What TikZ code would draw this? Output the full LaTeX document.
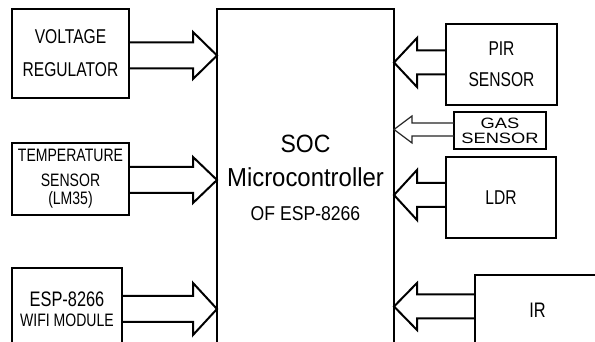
\documentclass[tikz,border=0pt]{standalone}
\usepackage{fontspec}
\setmainfont{Liberation Sans}
\newfontfamily\narfont[FakeStretch=0.78]{Liberation Sans}
\newfontfamily\socfont[FakeStretch=0.92]{Liberation Sans}
\newfontfamily\ofafont[FakeStretch=0.88]{Liberation Sans}
\newfontfamily\gasfont[FakeStretch=1.22]{Liberation Sans}
\usetikzlibrary{calc}
\tikzset{
  blk/.style={draw, line width=2pt, outer sep=0pt, inner sep=0pt, align=center},
  thinblk/.style={draw, line width=1.2pt, outer sep=0pt, inner sep=0pt, align=center},
  barrow/.style={draw, line width=2pt, line join=miter},
  tharrow/.style={draw=black!85, line width=1.2pt, line join=miter},
}
% arrow pointing right: #1 source (east side), #2 target (west side), #3 y centre (image px), #4 half shaft, #5 half head, #6 head length, #7 style
\newcommand\arrowRt[7]{%
  \draw[#7] let \p1=(#1.east), \p2=(#2.west) in
    (\x1,{(342-#3+#4)*1pt}) -- ({\x2-#6pt},{(342-#3+#4)*1pt}) -- ({\x2-#6pt},{(342-#3+#5)*1pt})
    -- (\x2,{(342-#3)*1pt}) -- ({\x2-#6pt},{(342-#3-#5)*1pt}) -- ({\x2-#6pt},{(342-#3-#4)*1pt})
    -- (\x1,{(342-#3-#4)*1pt});}
% arrow pointing left: #1 source (west side), #2 target (east side)
\newcommand\arrowLt[7]{%
  \draw[#7] let \p1=(#1.west), \p2=(#2.east) in
    (\x1,{(342-#3+#4)*1pt}) -- ({\x2+#6pt},{(342-#3+#4)*1pt}) -- ({\x2+#6pt},{(342-#3+#5)*1pt})
    -- (\x2,{(342-#3)*1pt}) -- ({\x2+#6pt},{(342-#3-#5)*1pt}) -- ({\x2+#6pt},{(342-#3-#4)*1pt})
    -- (\x1,{(342-#3-#4)*1pt});}
\begin{document}
\begin{tikzpicture}[x=1pt,y=1pt]
\useasboundingbox (0,0) rectangle (595,342);
\fill[white] (0,0) rectangle (595,342);
\clip (0,0) rectangle (595,342);

% left blocks
\node[blk, minimum width=117pt, minimum height=89pt, font=\narfont\fontsize{20}{33}\selectfont]
  (vr) at (70.5,288.5) {VOLTAGE\\REGULATOR};
\node[blk, minimum width=117pt, minimum height=72pt, font=\narfont\fontsize{18}{25}\selectfont]
  (ts) at (70.5,163) {TEMPERATURE\\SENSOR\\[-7pt](LM35)};
\node[blk, minimum width=110pt, minimum height=82pt, font=\narfont\fontsize{18}{20}\selectfont]
  (wifi) at (67,33) {{\narfont\fontsize{21}{20}\selectfont ESP-8266}\\WIFI MODULE};

% main block
\node[blk, minimum width=177pt, minimum height=337pt, font=\socfont\fontsize{26}{34}\selectfont]
  (main) at (305.5,164.5) {{\fontsize{25}{34}\selectfont SOC}\\Microcontroller\\{\ofafont\fontsize{20}{34}\selectfont OF ESP-8266}};

% right blocks
\node[blk, minimum width=111pt, minimum height=81pt, font=\narfont\fontsize{20}{31}\selectfont]
  (pir) at (501.5,277.5) {PIR\\SENSOR};
\node[thinblk, minimum width=92pt, minimum height=37pt, font=\gasfont\fontsize{15}{15}\selectfont]
  (gas) at (500,211.5) {GAS\\SENSOR};
\node[blk, minimum width=110pt, minimum height=81pt, font=\narfont\fontsize{20}{24}\selectfont]
  (ldr) at (501,144.5) {LDR};
\node[blk, minimum width=125pt, minimum height=71pt, font=\narfont\fontsize{21}{24}\selectfont]
  (ir) at (537.5,31.5) {IR};

% block arrows
\arrowRt{vr}{main}{55.5}{13}{23.5}{24}{barrow}
\arrowRt{ts}{main}{180}{13}{23}{24}{barrow}
\arrowRt{wifi}{main}{309}{13}{26}{24}{barrow}
\arrowLt{pir}{main}{62.5}{12}{24.5}{23}{barrow}
\arrowLt{gas}{main}{129.5}{6.5}{13.5}{18}{tharrow}
\arrowLt{ldr}{main}{195}{12}{25}{23}{barrow}
\arrowLt{ir}{main}{306.5}{12}{23.5}{23}{barrow}
\end{tikzpicture}
\end{document}
